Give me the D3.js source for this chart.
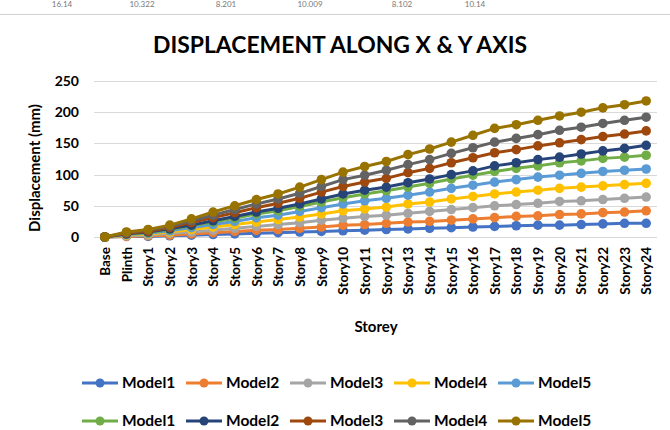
<!DOCTYPE html>
<html>
<head>
<meta charset="utf-8">
<script src="https://cdn.jsdelivr.net/npm/d3@7"></script>
<style>
  body { margin: 0; background: #fff; }
  text { font-family: Lato, "Open Sans", sans-serif; fill: #000; }
</style>
</head>
<body>
<script>
var categories = ["Base", "Plinth", "Story1", "Story2", "Story3", "Story4", "Story5", "Story6",
  "Story7", "Story8", "Story9", "Story10", "Story11", "Story12", "Story13", "Story14", "Story15",
  "Story16", "Story17", "Story18", "Story19", "Story20", "Story21", "Story22", "Story23", "Story24"];

var seriesNames = ["Model1", "Model2", "Model3", "Model4", "Model5",
  "Model1", "Model2", "Model3", "Model4", "Model5"];

var xModel1 = [0, 1, 1, 2, 3, 4, 5, 6, 7, 8, 9, 10, 11, 12, 13, 14, 15, 16, 17, 18, 19, 19, 20, 21, 22, 22];
var xModel2 = [0, 1, 2, 3, 5, 7, 9, 11, 12, 14, 16, 19, 20, 22, 24, 25, 27, 29, 31, 33, 34, 36, 37, 39, 40, 42];
var xModel3 = [0, 2, 3, 6, 8, 11, 14, 17, 20, 23, 27, 30, 33, 35, 38, 41, 44, 47, 50, 52, 54, 57, 58, 60, 62, 64];
var xModel4 = [0, 3, 5, 8, 12, 16, 20, 24, 28, 32, 37, 42, 45, 48, 53, 56, 61, 65, 69, 72, 75, 78, 80, 82, 84, 86];
var xModel5 = [0, 4, 6, 10, 15, 20, 25, 31, 35, 41, 47, 53, 58, 62, 67, 72, 78, 83, 88, 92, 96, 99, 102, 105, 107, 109];
var yModel1 = [0, 5, 7, 12, 18, 24, 30, 37, 42, 49, 56, 63, 69, 74, 80, 86, 93, 99, 105, 110, 114, 119, 122, 126, 128, 131];
var yModel2 = [0, 5, 8, 13, 19, 26, 33, 40, 46, 53, 61, 69, 75, 80, 87, 93, 100, 106, 114, 119, 124, 128, 133, 138, 142, 147];
var yModel3 = [0, 6, 9, 15, 23, 31, 39, 47, 54, 62, 72, 81, 88, 94, 103, 110, 119, 127, 135, 140, 146, 151, 156, 161, 165, 170];
var yModel4 = [0, 7, 11, 17, 26, 35, 44, 53, 61, 70, 81, 92, 99, 107, 116, 124, 134, 143, 152, 158, 164, 171, 176, 182, 187, 192];
var yModel5 = [0, 8, 12, 19, 29, 40, 50, 60, 69, 80, 92, 104, 113, 121, 132, 141, 152, 163, 174, 180, 187, 194, 200, 207, 212, 218];

var yTicks = [0, 50, 100, 150, 200, 250];
var colors = ["#4472C4", "#ED7D31", "#A5A5A5", "#FFC000", "#5B9BD5",
  "#70AD47", "#264478", "#9E480E", "#636363", "#997300"];

var allValues = [xModel1, xModel2, xModel3, xModel4, xModel5,
  yModel1, yModel2, yModel3, yModel4, yModel5];

var series = allValues.map(function(vals, i) {
  return { name: seriesNames[i], color: colors[i], values: vals };
});

var w = 670, h = 430;
var svg = d3.select("body").append("svg").attr("width", w).attr("height", h);

// strip left over from the page above
var stripLabels = ["16.14", "10.322", "8.201", "10.009", "8.102", "10.14"];
var stripX = [62, 142, 226, 310, 402, 475];
svg.selectAll(".strip").data(stripLabels).enter().append("text")
  .attr("x", function(d, i) { return stripX[i]; })
  .attr("y", 7)
  .attr("text-anchor", "middle")
  .style("font-size", "8px")
  .style("fill", "#777")
  .text(function(d) { return d; });
svg.append("line").attr("x1", 0).attr("x2", w).attr("y1", 14.5).attr("y2", 14.5)
  .attr("stroke", "#d0d0d0").attr("stroke-width", 1);

var x = d3.scalePoint().domain(categories).range([94, 657]).padding(0.5);
var y = d3.scaleLinear().domain([0, 250]).range([237, 81]);

// title
svg.append("text")
  .attr("x", 340).attr("y", 53)
  .attr("text-anchor", "middle")
  .attr("textLength", 374).attr("lengthAdjust", "spacingAndGlyphs")
  .style("font-size", "23px").style("font-weight", "bold")
  .text("DISPLACEMENT ALONG X & Y AXIS");

// gridlines
svg.selectAll(".grid").data(yTicks).enter().append("line")
  .attr("x1", 94).attr("x2", 657)
  .attr("y1", function(d) { return Math.round(y(d)) + 0.5; })
  .attr("y2", function(d) { return Math.round(y(d)) + 0.5; })
  .attr("stroke", "#d9d9d9").attr("stroke-width", 1);

// y axis labels
var yAxis = d3.axisLeft(y).tickValues(yTicks).tickSize(0).tickPadding(0);
var gy = svg.append("g").attr("transform", "translate(79,0)").call(yAxis);
gy.select(".domain").remove();
gy.selectAll("text").style("font-size", "14px").style("font-weight", "bold")
  .style("font-family", "Lato, sans-serif").attr("fill", "#000");

// x axis labels
var xAxis = d3.axisBottom(x).tickSize(0).tickPadding(0);
var gx = svg.append("g").attr("transform", "translate(0,247)").call(xAxis);
gx.select(".domain").remove();
gx.selectAll("text")
  .attr("transform", "rotate(-90)")
  .attr("x", 0).attr("y", 0).attr("dy", "0.35em")
  .attr("text-anchor", "end")
  .style("font-size", "13.5px").style("font-weight", "bold")
  .style("font-family", "Lato, sans-serif").attr("fill", "#000");

// axis titles
svg.append("text")
  .attr("transform", "translate(40,168) rotate(-90)")
  .attr("text-anchor", "middle")
  .style("font-size", "15px").style("font-weight", "bold")
  .text("Displacement (mm)");
svg.append("text")
  .attr("x", 376).attr("y", 332)
  .attr("text-anchor", "middle")
  .style("font-size", "15px").style("font-weight", "bold")
  .text("Storey");

// series
var line = d3.line()
  .x(function(d, i) { return x(categories[i]); })
  .y(function(d) { return y(d); });

var g = svg.selectAll(".series").data(series).enter().append("g").attr("class", "series");
g.append("path")
  .attr("d", function(d) { return line(d.values); })
  .attr("fill", "none")
  .attr("stroke", function(d) { return d.color; })
  .attr("stroke-width", 3);
g.selectAll("circle").data(function(d) {
    return d.values.map(function(v, i) { return { v: v, i: i, color: d.color }; });
  }).enter().append("circle")
  .attr("cx", function(d) { return x(categories[d.i]); })
  .attr("cy", function(d) { return y(d.v); })
  .attr("r", 4.8)
  .attr("fill", function(d) { return d.color; });

// legend
var legend = svg.selectAll(".legend").data(series).enter().append("g")
  .attr("transform", function(d, i) {
    return "translate(" + (82 + (i % 5) * 104) + "," + (i < 5 ? 383 : 421) + ")";
  });
legend.append("line").attr("x1", 0).attr("x2", 36).attr("y1", 0).attr("y2", 0)
  .attr("stroke", function(d) { return d.color; }).attr("stroke-width", 3);
legend.append("circle").attr("cx", 18).attr("cy", 0).attr("r", 4.5)
  .attr("fill", function(d) { return d.color; });
legend.append("text").attr("x", 40).attr("y", 0).attr("dy", "0.35em")
  .style("font-size", "15.5px").style("font-weight", "bold")
  .text(function(d) { return d.name; });
</script>
</body>
</html>
